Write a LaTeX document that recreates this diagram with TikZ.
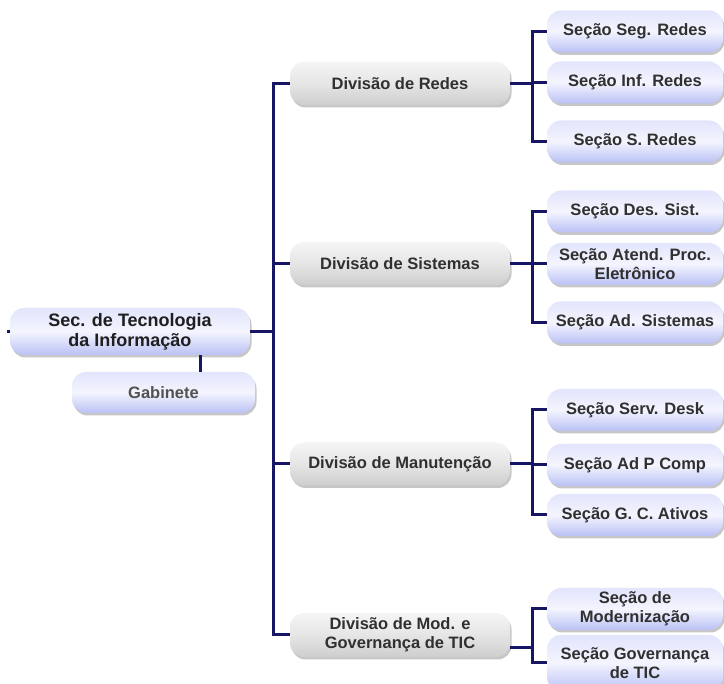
\documentclass[tikz,border=0pt]{standalone}
\usepackage{fontspec}
\setmainfont{Liberation Sans}
\usetikzlibrary{shadows}
\definecolor{navy}{RGB}{22,22,100}
\definecolor{lavtop}{RGB}{226,229,252}
\definecolor{lavbot}{RGB}{186,193,245}
\definecolor{graybot}{RGB}{206,206,206}
\definecolor{txtdark}{RGB}{48,48,48}
\tikzset{
  basebox/.style={rectangle, rounded corners=14pt, align=center, inner sep=2pt,
    font=\bfseries\fontsize{16.5}{19}\selectfont, text=txtdark,
    drop shadow={shadow xshift=1.5pt, shadow yshift=-2.5pt, opacity=0.22, fill=black}},
  secbox/.style={basebox, minimum width=176pt, minimum height=42pt,
    top color=lavtop, bottom color=lavbot, middle color=white!60!lavtop},
  divbox/.style={basebox, minimum width=220pt, minimum height=43pt,
    top color=white!96!black, bottom color=graybot, middle color=white!90!black},
  rootbox/.style={basebox, minimum width=240pt, minimum height=47pt,
    top color=lavtop, bottom color=lavbot, middle color=white!60!lavtop,
    font=\bfseries\fontsize{18}{20}\selectfont, text=black!88},
  gabbox/.style={basebox, minimum width=183pt, minimum height=41pt,
    top color=lavtop, bottom color=lavbot, middle color=white!60!lavtop, text=black!68},
  conn/.style={draw=navy, line width=3pt}
}
\begin{document}
\begin{tikzpicture}[x=1pt,y=-1pt]
\useasboundingbox (0,0) rectangle (724,684);
\fill[white] (0,0) rectangle (724,684);

% root and cabinet
\node[rootbox] (root) at (130,331.5) {Sec. de Tecnologia\\da Informação};
\node[gabbox] (gab) at (163.5,392.5) {Gabinete};

% divisions
\node[divbox] (dred) at (400,83.5) {Divisão de Redes};
\node[divbox] (dsis) at (400,263.5) {Divisão de Sistemas};
\node[divbox] (dman) at (400,464) {Divisão de Manutenção};
\node[divbox, minimum height=44pt] (dmod) at (400,635) {Divisão de Mod. e\\Governança de TIC};

% sections
\node[secbox] (sseg) at (635,31.5) {Seção Seg. Redes};
\node[secbox] (sinf) at (635,82.5) {Seção Inf. Redes};
\node[secbox] (ssr)  at (635,141.5) {Seção S. Redes};
\node[secbox] (sdes) at (635,211.5) {Seção Des. Sist.};
\node[secbox] (satd) at (635,264) {Seção Atend. Proc.\\Eletrônico};
\node[secbox] (sads) at (635,322.5) {Seção Ad. Sistemas};
\node[secbox] (ssd)  at (635,410) {Seção Serv. Desk};
\node[secbox] (sapc) at (635,465) {Seção Ad P Comp};
\node[secbox] (sgca) at (635,515) {Seção G. C. Ativos};
\node[secbox] (smod) at (635,609) {Seção de\\Modernização};
\node[secbox, minimum height=56pt] (sgov) at (635,663) {Seção Governança\\de TIC};

% connectors
\coordinate (tx) at (273,0);
\coordinate (bx) at (532,0);
\draw[conn] (dred.west) -| (tx |- dmod.west) -- (dmod.west);
\draw[conn] (dsis.west) -- (dsis.west -| tx);
\draw[conn] (dman.west) -- (dman.west -| tx);
\draw[conn] (root.east) -- (root.east -| tx);
\draw[conn] (root.west) -- ++(-3,0);
\draw[conn] ([xshift=70pt]root.south) -- ([xshift=36.5pt]gab.north);

\draw[conn] (dred.east) -- (dred.east -| bx);
\draw[conn] (sseg.west) -- (sseg.west -| bx) -- (ssr.west -| bx) -- (ssr.west);
\draw[conn] (sinf.west) -- (sinf.west -| bx);

\draw[conn] (dsis.east) -- (dsis.east -| bx);
\draw[conn] (sdes.west) -- (sdes.west -| bx) -- (sads.west -| bx) -- (sads.west);
\draw[conn] (satd.west) -- (satd.west -| bx);

\draw[conn] (dman.east) -- (dman.east -| bx);
\draw[conn] (ssd.west) -- (ssd.west -| bx) -- (sgca.west -| bx) -- (sgca.west);
\draw[conn] (sapc.west) -- (sapc.west -| bx);

\draw[conn] ([yshift=-13pt]dmod.east) -- ([yshift=-13pt]dmod.east -| bx);
\draw[conn] (smod.west) -- (smod.west -| bx) -- (sgov.west -| bx) -- (sgov.west);
\end{tikzpicture}
\end{document}
